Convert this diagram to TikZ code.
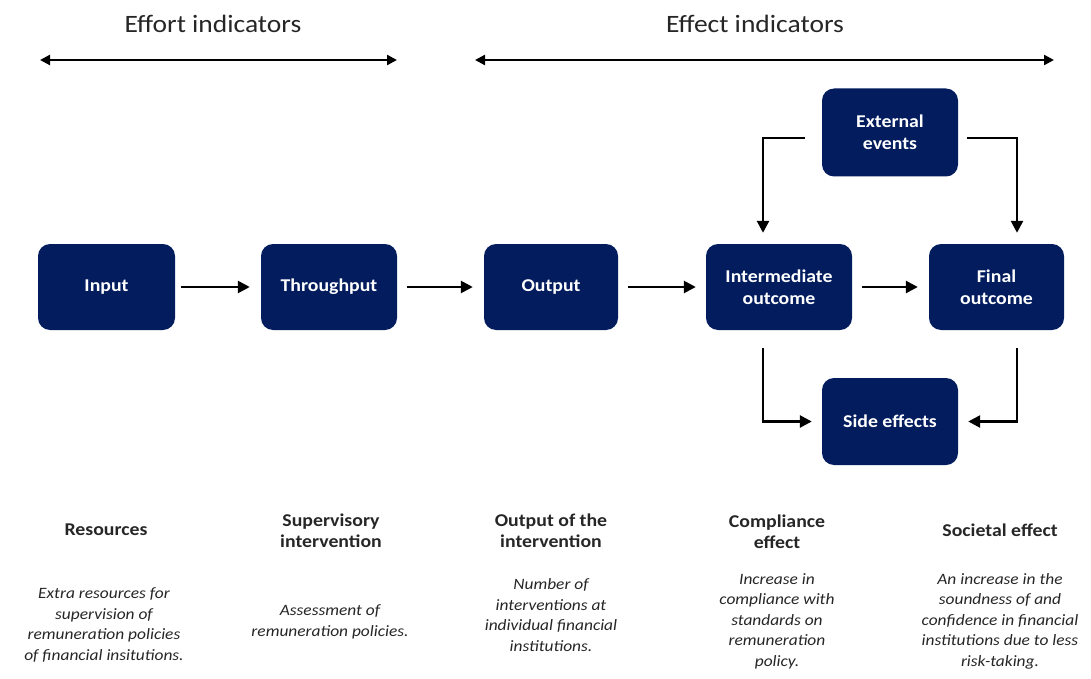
\documentclass[tikz,border=0pt]{standalone}
\usepackage{fontspec}
\setmainfont{Carlito}[FakeStretch=1.1]
\usetikzlibrary{arrows.meta}
\definecolor{navy}{RGB}{2,28,94}
\tikzset{
	stage/.style={fill=navy, rounded corners=12pt, minimum width=136pt, minimum height=86pt,
		text=white, font=\fontsize{18}{22}\selectfont\bfseries, align=center, inner sep=0pt},
	heading/.style={font=\fontsize{18}{21}\selectfont\bfseries, align=center, text=black!85},
	note/.style={font=\fontsize{15.8}{20.5}\selectfont\itshape, align=center, text=black!85},
	flow/.style={line width=2.6pt, -{Triangle[length=12pt,width=12pt]}},
	span/.style={line width=2.2pt, {Triangle[length=10pt,width=10pt]}-{Triangle[length=10pt,width=10pt]}}
}
\begin{document}
\begin{tikzpicture}[x=1pt, y=-1pt]
	\useasboundingbox (0,0) rectangle (1091,679);
	% indicator ranges
	\node [font=\fontsize{25}{28}\selectfont, text=black!85] (effort) at (213, 24) {Effort indicators};
	\node [font=\fontsize{25}{28}\selectfont, text=black!85] (effect) at (755, 24) {Effect indicators};
	\coordinate (EffortL) at (40, 60);
	\coordinate (EffortR) at (397, 60);
	\coordinate (EffectL) at (475, 60);
	\coordinate (EffectR) at (1054, 60);
	\draw [span] (EffortL) -- (EffortR);
	\draw [span] (EffectL) -- (EffectR);
	% boxes
	\node [stage, minimum width=137pt] (Input) at (106.5, 287) {Input};
	\node [stage] (Throughput) at (329, 287) {Throughput};
	\node [stage, minimum width=134pt] (Output) at (551, 287) {Output};
	\node [stage, minimum width=146pt] (Inter) at (779, 287) {Intermediate\\outcome};
	\node [stage, minimum width=135pt] (Final) at (996.5, 287) {Final\\outcome};
	\node [stage, minimum height=88pt] (External) at (890, 132.5) {External\\events};
	\node [stage, minimum height=87pt] (Side) at (890, 421.5) {Side effects};
	% connectors
	\draw [flow, shorten <=6pt, shorten >=11pt] (Input) -- (Throughput);
	\draw [flow, shorten <=10pt, shorten >=11pt] (Throughput) -- (Output);
	\draw [flow, shorten <=10pt, shorten >=10pt] (Output) -- (Inter);
	\draw [flow, shorten <=10pt, shorten >=11pt] (Inter) -- (Final);
	\draw [flow, shorten <=17pt, shorten >=11pt] (External.west |- 0,138) -| (Inter.north -| 763,0);
	\draw [flow, shorten <=9pt, shorten >=11pt] (External.east |- 0,138) -| (Final.north -| 1017,0);
	\draw [flow, shorten <=18pt, shorten >=10pt] (Inter.south -| 763,0) |- (Side.west);
	\draw [flow, shorten <=18pt, shorten >=10pt] (Final.south -| 1017,0) |- (Side.east);
	% headings
	\node [heading] (Resources) at (106, 530) {Resources};
	\node [heading] (Supervisory) at (331, 531) {Supervisory\\intervention};
	\node [heading] (OutputOf) at (551, 531) {Output of the\\intervention};
	\node [heading] (Compliance) at (777, 532) {Compliance\\effect};
	\node [heading] (Societal) at (1000, 530) {Societal effect};
	% descriptions
	\node [note] (ResNote) at (104, 625) {Extra resources for\\supervision of\\remuneration policies\\of financial insitutions.};
	\node [note] (SupNote) at (330, 622) {Assessment of\\remuneration policies.};
	\node [note] (OutNote) at (551, 615) {Number of\\interventions at\\individual financial\\institutions.};
	\node [note] (ComNote) at (777, 621) {Increase in\\compliance with\\standards on\\remuneration\\policy.};
	\node [note] (SocNote) at (1000, 621) {An increase in the\\soundness of and\\confidence in financial\\institutions due to less\\risk-taking.};
\end{tikzpicture}
\end{document}
